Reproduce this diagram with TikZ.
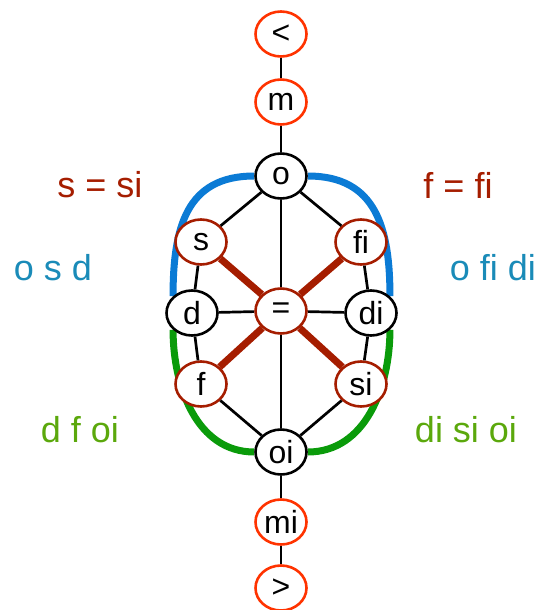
\documentclass[tikz,border=0pt]{standalone}
\usepackage{fontspec}
\setmainfont{Liberation Sans}
\usepackage{tikz}
\usetikzlibrary{shapes.geometric,backgrounds}
\definecolor{rust}{HTML}{A51D00}
\definecolor{flame}{HTML}{FF3300}
\definecolor{skyline}{HTML}{0B7BD5}
\definecolor{steel}{HTML}{1A8BB8}
\definecolor{leaf}{HTML}{0A9B0A}
\definecolor{lime}{HTML}{5BA80C}
\begin{document}
\begin{tikzpicture}[x=1pt,y=-1pt,
  rel/.style={ellipse,draw=black,fill=white,line width=2.6pt,minimum width=51pt,minimum height=45pt,inner sep=0pt,font=\fontsize{32}{34}\selectfont},
  endrel/.style={rel,draw=flame},
  symrel/.style={rel,draw=rust},
  note/.style={font=\fontsize{36}{40}\selectfont},
  link/.style={draw=black,line width=2.7pt},
  bar/.style={draw=rust,line width=7pt},
  bluearc/.style={draw=skyline,line width=7pt},
  greenarc/.style={draw=leaf,line width=7pt}
]
\useasboundingbox (0,0) rectangle (538,610);
\node[endrel] (lt) at (281,34) {<};
\node[endrel] (m) at (281,102) {m};
\node[rel] (o) at (281,176) {o};
\node[symrel] (s) at (201,242) {s};
\node[symrel] (fi) at (361,242) {fi};
\node[rel] (d) at (192,313) {d};
\node[symrel] (eq) at (281,311) {=};
\node[rel] (di) at (371,313) {di};
\node[symrel] (f) at (201,384) {f};
\node[symrel] (si) at (361,384) {si};
\node[rel] (oi) at (281,452) {oi};
\node[endrel] (mi) at (281,522) {mi};
\node[endrel] (gt) at (281,588) {>};

\node[note,text=rust] (sEq) at (100,185) {s = si};
\node[note,text=rust] (fEq) at (458,185) {f = fi};
\node[note,text=steel] (osd) at (53,268) {o s d};
\node[note,text=steel] (ofidi) at (493,268) {o fi di};
\node[note,text=lime] (dfoi) at (80,430) {d f oi};
\node[note,text=lime] (disioi) at (466,430) {di si oi};

\begin{scope}[on background layer]
\draw[bluearc] (o.west) to[out=180,in=90,looseness=1.2] (d.north west);
\draw[bluearc] (o.east) to[out=0,in=90,looseness=1.2] (di.north east);
\draw[greenarc] (d.south west) to[out=270,in=180] (oi.west);
\draw[greenarc] (di.south east) to[out=270,in=0] (oi.east);
\end{scope}

\foreach \a/\b in {lt/m,m/o,o/s,o/fi,o/eq,eq/oi,s/d,fi/di,d/eq,eq/di,d/f,di/si,f/oi,si/oi,oi/mi,mi/gt}
  \draw[link] (\a) -- (\b);
\foreach \b in {s,fi,f,si}
  \draw[bar] (eq) -- (\b);
\end{tikzpicture}
\end{document}
